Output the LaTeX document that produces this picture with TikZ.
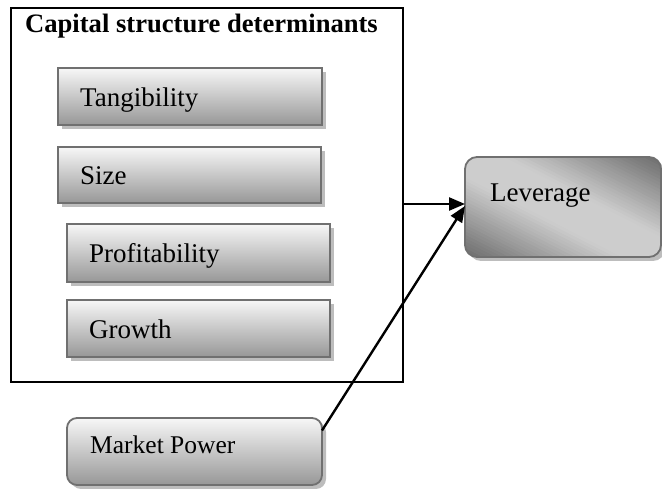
\documentclass[tikz,border=0pt]{standalone}
\usepackage{fontspec}
\setmainfont{Liberation Serif}
\usetikzlibrary{arrows.meta,shadows}
\definecolor{boxline}{HTML}{707070}
\definecolor{boxtop}{HTML}{F7F7F7}
\definecolor{boxbot}{HTML}{979797}
\definecolor{shadowc}{HTML}{BDBDBD}
\definecolor{levdark}{HTML}{6C6C6C}
\definecolor{levlight}{HTML}{CDCDCD}
\newcommand\levgradientfill{%
  \begin{scope}[shift={(path picture bounding box.center)}]
    \foreach \s in {-111,-108,...,108}{%
      \pgfmathtruncatemacro\tval{min(100,max(0,(abs(\s+1.5)-18)*100/70))}%
      \pgfmathsetmacro\sb{\s+3.6}%
      \fill[levdark!\tval!levlight]
        ({\s*0.454-150*0.891},{-\s*0.891-150*0.454}) --
        ({\sb*0.454-150*0.891},{-\sb*0.891-150*0.454}) --
        ({\sb*0.454+150*0.891},{-\sb*0.891+150*0.454}) --
        ({\s*0.454+150*0.891},{-\s*0.891+150*0.454}) -- cycle;
    }
  \end{scope}}
\tikzset{
  boxshadow/.style={drop shadow={shadow xshift=4pt, shadow yshift=-4pt, fill=shadowc, opacity=1}},
  detbox/.style={draw=boxline, line width=1.8pt, top color=boxtop, bottom color=boxbot,
    anchor=north west, inner sep=0pt, outer sep=0pt, boxshadow},
  levbox/.style={draw=boxline, line width=1.8pt, rounded corners=12pt, fill=levlight,
    path picture={\levgradientfill},
    anchor=north west, inner sep=0pt, outer sep=0pt, boxshadow},
  mpbox/.style={draw=boxline, line width=1.8pt, rounded corners=10pt, top color=boxtop, bottom color=boxbot,
    anchor=north west, inner sep=0pt, outer sep=0pt, boxshadow},
  lbl/.style={anchor=base west, inner sep=0pt, font=\fontsize{27}{30}\selectfont},
  conn/.style={line width=2.4pt, -{Triangle[length=16pt,width=13pt]}},
}
\begin{document}
\begin{tikzpicture}[x=1pt,y=-1pt]
\useasboundingbox (0,0) rectangle (662,489);
% outer frame
\node[draw=black, line width=2pt, minimum width=392pt, minimum height=374pt, anchor=north west, inner sep=0pt, outer sep=0pt] (outer) at (11,8) {};
\node[anchor=base west, inner sep=0pt, font=\fontsize{26.6}{30}\selectfont\bfseries] (title) at (25,33) {Capital structure determinants};
% determinant boxes
\node[detbox, minimum width=264pt, minimum height=57pt] (tang) at (58,68) {};
\node[lbl] (tangt) at (80,107) {Tangibility};
\node[detbox, minimum width=263pt, minimum height=56pt] (size) at (58,147) {};
\node[lbl] (sizet) at (80,185) {Size};
\node[detbox, minimum width=263pt, minimum height=58pt] (prof) at (67,224) {};
\node[lbl] (proft) at (89,263) {Profitability};
\node[detbox, minimum width=263pt, minimum height=57pt] (grow) at (67,300) {};
\node[lbl] (growt) at (89,339) {Growth};
% leverage
\node[levbox, minimum width=196pt, minimum height=100pt] (lev) at (465,157) {};
\node[lbl] (levt) at (490,202) {Leverage};
% market power
\node[mpbox, minimum width=255pt, minimum height=67pt] (mp) at (67,418) {};
\node[lbl, font=\fontsize{25.5}{30}\selectfont] (mpt) at (90,453) {Market Power};
% connectors
\coordinate (levin) at ([yshift=3pt]lev.west);
\coordinate (levin2) at ([yshift=1pt]lev.west);
\coordinate (mpout) at ([yshift=21pt]mp.east);
\draw[conn] (outer.east |- levin) -- (levin);
\draw[conn] (mpout) -- (levin2);
\end{tikzpicture}
\end{document}
